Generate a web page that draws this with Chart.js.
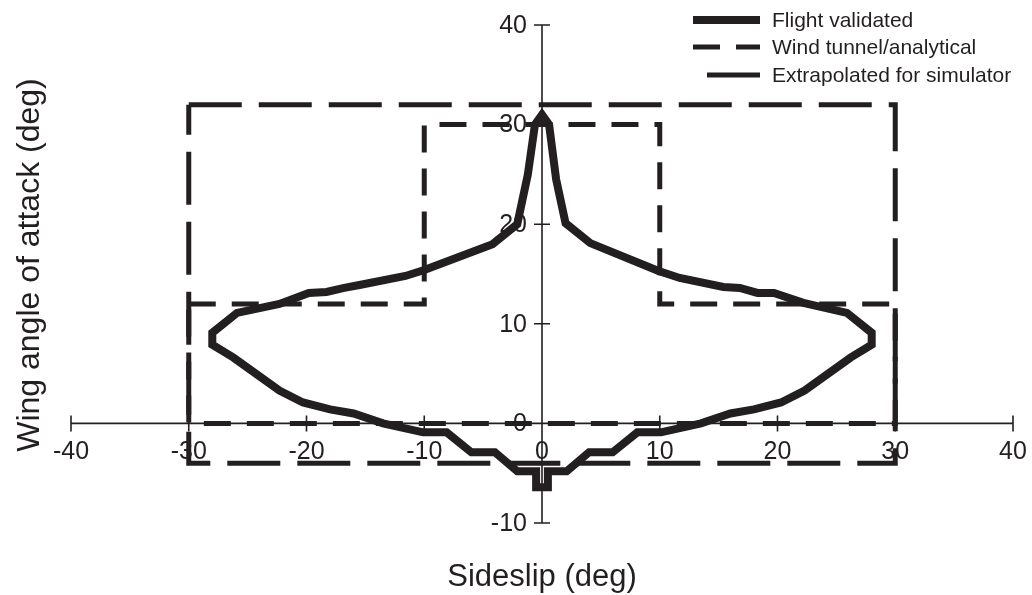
<!DOCTYPE html>
<html><head><meta charset="utf-8">
<script src="https://cdn.jsdelivr.net/npm/chart.js@4/dist/chart.umd.min.js"></script>
<style>html,body{margin:0;padding:0;background:#fff;} #wrap{width:1032px;height:595px;position:relative;}</style>
</head><body><div id="wrap"><canvas id="c" width="1032" height="595"></canvas></div>
<script>
// ---- data ----
const xTicks = [-40, -30, -20, -10, 0, 10, 20, 30, 40];
const yTicks = [-10, 0, 10, 20, 30, 40];
const seriesLabels = ['Flight validated', 'Wind tunnel/analytical', 'Extrapolated for simulator'];
const xTitle = 'Sideslip (deg)';
const yTitle = 'Wing angle of attack (deg)';

const flightX = [0, 0.5, 0.5, 2.1, 4, 6, 8.1, 10.1, 13.5, 16, 18, 20.3, 22.3, 26.2, 28, 28, 25.9, 22.2, 19.7, 18.3, 16.8, 15.4, 11.7, 9.9, 4.1, 2, 1.2, 0.6, 0,
  -0.6, -1.2, -2.1, -4.2, -10, -11.6, -15.5, -16.8, -18.3, -19.8, -22.3, -25.9, -28, -28, -26.2, -22.3, -20.3, -18, -16, -13.5, -10.1, -8.1, -6, -4, -2.1, -0.5, -0.5, 0];
const flightY = [-6.4, -6.4, -4.8, -4.8, -2.9, -2.9, -0.9, -0.9, 0, 1, 1.4, 2.1, 3.3, 6.6, 7.9, 9.1, 11.1, 12.1, 13.1, 13.1, 13.6, 13.7, 14.6, 15.3, 18.1, 20.1, 24.5, 30, 31,
  30, 25, 20, 18, 15.4, 14.8, 13.9, 13.6, 13.2, 13.1, 12, 11.1, 9.1, 7.9, 6.6, 3.3, 2.1, 1.4, 1, 0, -0.9, -0.9, -2.9, -2.9, -4.8, -4.8, -6.4, -6.4];

const tunnelX = [-30, -10, -10, 10, 10, 30, 30, -30, -30];
const tunnelY = [12, 12, 30, 30, 12, 12, 0, 0, 12];

const extrapX = [-30, 30, 30, -30, -30];
const extrapY = [32, 32, -4, -4, 32];

const INK = '#231f20';
const FONT = '"Liberation Sans", Arial, Helvetica, sans-serif';

function pts(xs, ys) { return xs.map((v, i) => ({x: v, y: ys[i]})); }

const axesPlugin = {
  id: 'crossAxes',
  beforeDatasetsDraw(chart) {
    const {ctx, scales: {x, y}} = chart;
    const x0 = x.getPixelForValue(0), y0 = y.getPixelForValue(0);
    ctx.save();
    ctx.strokeStyle = INK; ctx.lineWidth = 1.6; ctx.setLineDash([]);
    ctx.beginPath();
    ctx.moveTo(x.getPixelForValue(xTicks[0]), y0);
    ctx.lineTo(x.getPixelForValue(xTicks[xTicks.length - 1]), y0);
    ctx.moveTo(x0, y.getPixelForValue(yTicks[0]));
    ctx.lineTo(x0, y.getPixelForValue(yTicks[yTicks.length - 1]));
    xTicks.forEach(v => { const p = x.getPixelForValue(v); ctx.moveTo(p, y0 - 8); ctx.lineTo(p, y0 + 8); });
    yTicks.forEach(v => { const p = y.getPixelForValue(v); ctx.moveTo(x0 - 8, p); ctx.lineTo(x0 + 8, p); });
    ctx.stroke();
    ctx.fillStyle = INK;
    ctx.font = '25px ' + FONT;
    ctx.textAlign = 'center'; ctx.textBaseline = 'middle';
    xTicks.forEach(v => ctx.fillText(String(v), x.getPixelForValue(v), y0 + 29));
    ctx.textAlign = 'right';
    yTicks.forEach(v => ctx.fillText(String(v), x0 - 15, y.getPixelForValue(v) + 1));
    // axis titles
    ctx.font = '31px ' + FONT;
    ctx.textAlign = 'center';
    ctx.fillText(xTitle, (chart.chartArea.left + chart.chartArea.right) / 2, 577);
    ctx.save();
    ctx.translate(30, 265);
    ctx.rotate(-Math.PI / 2);
    ctx.font = '32px ' + FONT;
    ctx.fillText(yTitle, 0, 0);
    ctx.restore();
    ctx.restore();
  },
  afterDraw(chart) {
    const {ctx} = chart;
    const rows = [20, 47, 75];
    const starts = [693, 693, 707];
    const lineEnd = 760, textX = 772;
    ctx.save();
    chart.data.datasets.forEach((ds, i) => {
      ctx.strokeStyle = ds.borderColor;
      ctx.lineWidth = ds.borderWidth;
      ctx.lineCap = 'butt';
      ctx.setLineDash(ds.borderDash || []);
      ctx.beginPath();
      ctx.moveTo(starts[i], rows[i]);
      ctx.lineTo(lineEnd, rows[i]);
      ctx.stroke();
      ctx.setLineDash([]);
      ctx.fillStyle = INK;
      ctx.font = '21px ' + FONT;
      ctx.textAlign = 'left'; ctx.textBaseline = 'middle';
      ctx.fillText(ds.label, textX, rows[i] + 1);
    });
    ctx.restore();
  }
};

new Chart(document.getElementById('c'), {
  type: 'scatter',
  data: {
    datasets: [
      {label: seriesLabels[0], data: pts(flightX, flightY), showLine: true, borderColor: INK, borderWidth: 8,
       borderDash: [], pointRadius: 0, fill: false, tension: 0, borderJoinStyle: 'miter'},
      {label: seriesLabels[1], data: pts(tunnelX, tunnelY), showLine: true, borderColor: INK, borderWidth: 5,
       borderDash: [27, 16], pointRadius: 0, fill: false, tension: 0},
      {label: seriesLabels[2], data: pts(extrapX, extrapY), showLine: true, borderColor: INK, borderWidth: 5,
       borderDash: [53, 17], pointRadius: 0, fill: false, tension: 0}
    ]
  },
  options: {
    responsive: false, animation: false, devicePixelRatio: 1,
    layout: {padding: {left: 71, right: 19, top: 25, bottom: 72}},
    scales: {
      x: {type: 'linear', min: xTicks[0], max: xTicks[xTicks.length - 1], display: false},
      y: {type: 'linear', min: yTicks[0], max: yTicks[yTicks.length - 1], display: false}
    },
    plugins: {legend: {display: false}, tooltip: {enabled: false}}
  },
  plugins: [axesPlugin]
});
</script>
</body></html>
